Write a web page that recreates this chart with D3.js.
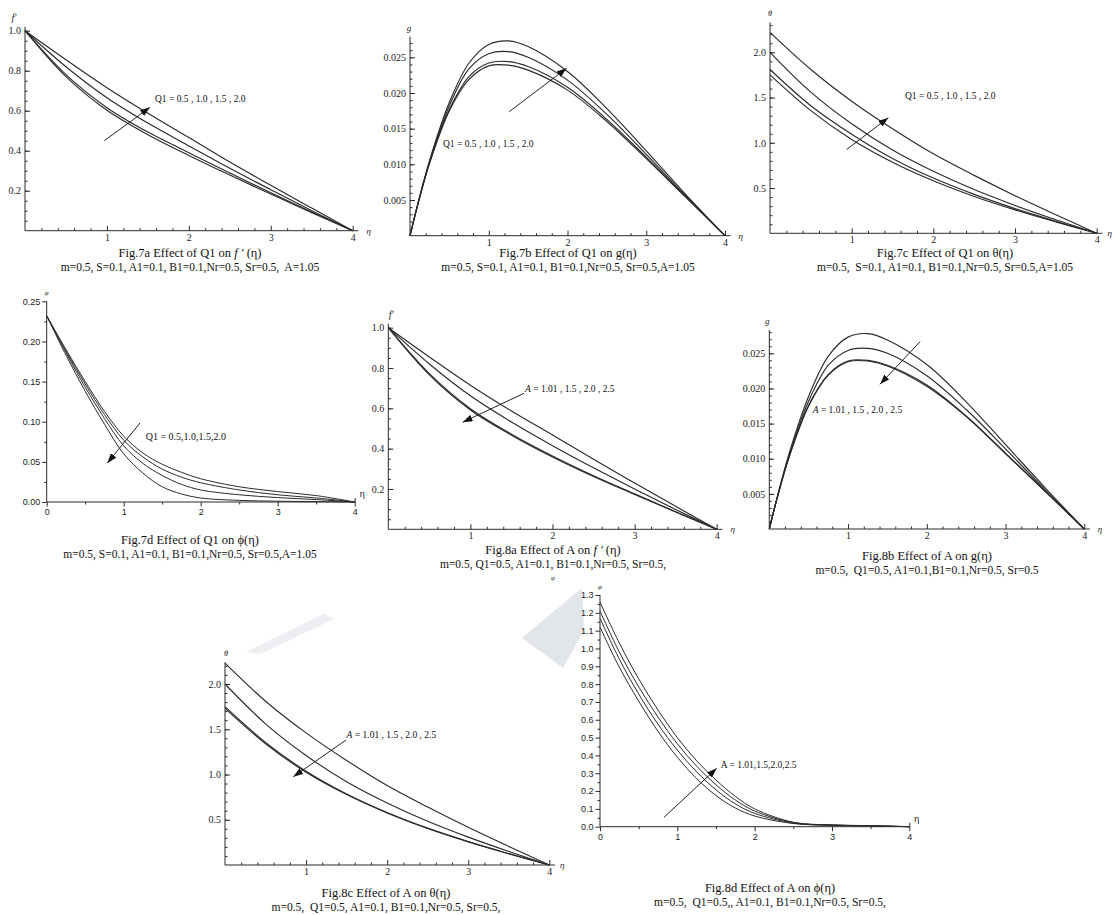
<!DOCTYPE html>
<html>
<head>
<meta charset="utf-8">
<title>Effect of Q1 and A on the profiles</title>
<script src="https://cdnjs.cloudflare.com/ajax/libs/d3/7.8.5/d3.min.js"></script>
<style>
  body { margin: 0; background: #fff; }
  svg { display: block; }
</style>
</head>
<body>
<script>
// eta grids used by the curves
const etaMain = [0, 0.5, 1, 1.5, 2, 2.5, 3, 3.5, 4];
const etaG = [0, 0.1, 0.25, 0.5, 0.75, 1, 1.25, 1.5, 2, 2.5, 3, 3.5, 4];
const etaPhi = [0, 0.25, 0.5, 0.75, 1, 1.25, 1.5, 1.75, 2, 2.5, 3, 3.5, 4];

// Fig 7a  f'(eta)  Q1 = 0.5, 1.0, 1.5, 2.0
const f7aQ05 = [1, 0.77, 0.602, 0.48, 0.376, 0.278, 0.183, 0.09, 0];
const f7aQ10 = [1, 0.78, 0.615, 0.493, 0.39, 0.288, 0.19, 0.094, 0];
const f7aQ15 = [1, 0.82, 0.665, 0.538, 0.424, 0.312, 0.205, 0.1, 0];
const f7aQ20 = [1, 0.855, 0.715, 0.587, 0.466, 0.343, 0.227, 0.113, 0];

// Fig 7b  g(eta)
const g7bQ05 = [0, 0.0044, 0.0102, 0.0175, 0.0219, 0.0238, 0.0239, 0.0232, 0.0204, 0.0160, 0.0108, 0.0054, 0];
const g7bQ10 = [0, 0.0044, 0.0103, 0.0177, 0.0223, 0.0242, 0.0244, 0.0237, 0.0208, 0.0163, 0.0110, 0.0055, 0];
const g7bQ15 = [0, 0.0045, 0.0104, 0.0182, 0.0234, 0.0255, 0.0258, 0.0250, 0.0218, 0.0170, 0.0114, 0.0056, 0];
const g7bQ20 = [0, 0.0045, 0.0106, 0.0187, 0.0242, 0.0268, 0.0273, 0.0265, 0.0230, 0.0178, 0.0119, 0.0058, 0];

// Fig 7c  theta(eta)
const t7cQ05 = [1.75, 1.355, 1.036, 0.785, 0.58, 0.407, 0.259, 0.126, 0];
const t7cQ10 = [1.81, 1.41, 1.095, 0.827, 0.61, 0.43, 0.273, 0.133, 0];
const t7cQ15 = [2.0, 1.56, 1.21, 0.92, 0.685, 0.483, 0.308, 0.15, 0];
const t7cQ20 = [2.22, 1.81, 1.46, 1.155, 0.878, 0.64, 0.416, 0.205, 0];

// Fig 7d  phi(eta)
const p7dQ05 = [0.232, 0.19, 0.15, 0.113, 0.082, 0.061, 0.047, 0.037, 0.029, 0.019, 0.013, 0.008, 0];
const p7dQ10 = [0.232, 0.188, 0.147, 0.109, 0.077, 0.056, 0.041, 0.031, 0.024, 0.015, 0.009, 0.005, 0];
const p7dQ15 = [0.232, 0.186, 0.143, 0.104, 0.070, 0.048, 0.033, 0.022, 0.015, 0.009, 0.0055, 0.003, 0];
const p7dQ20 = [0.232, 0.183, 0.138, 0.097, 0.060, 0.036, 0.019, 0.010, 0.005, 0.002, 0.001, 0.0005, 0];

// Fig 8a  f'(eta)  A = 1.01, 1.5, 2.0, 2.5
const f8aA101 = [1, 0.855, 0.715, 0.587, 0.468, 0.347, 0.23, 0.114, 0];
const f8aA15 = [1, 0.82, 0.662, 0.532, 0.415, 0.305, 0.2, 0.098, 0];
const f8aA20 = [1, 0.772, 0.598, 0.472, 0.364, 0.266, 0.176, 0.087, 0];
const f8aA25 = [1, 0.766, 0.592, 0.467, 0.359, 0.262, 0.173, 0.086, 0];

// Fig 8b  g(eta)
const g8bA101 = [0, 0.0045, 0.0107, 0.0189, 0.0246, 0.0273, 0.0278, 0.0269, 0.0234, 0.0181, 0.0120, 0.0059, 0];
const g8bA15 = [0, 0.0045, 0.0104, 0.0182, 0.0233, 0.0254, 0.0257, 0.0250, 0.0218, 0.0170, 0.0114, 0.0056, 0];
const g8bA20 = [0, 0.0044, 0.0102, 0.0176, 0.0220, 0.0239, 0.0240, 0.0233, 0.0205, 0.0161, 0.0108, 0.0054, 0];
const g8bA25 = [0, 0.0044, 0.0102, 0.0175, 0.0219, 0.0238, 0.0239, 0.0232, 0.0203, 0.0160, 0.0107, 0.0054, 0];

// Fig 8c  theta(eta)
const t8cA101 = [2.23, 1.81, 1.46, 1.155, 0.878, 0.64, 0.416, 0.205, 0];
const t8cA15 = [2.0, 1.56, 1.21, 0.92, 0.685, 0.483, 0.308, 0.15, 0];
const t8cA20 = [1.75, 1.355, 1.036, 0.785, 0.58, 0.407, 0.259, 0.126, 0];
const t8cA25 = [1.73, 1.34, 1.025, 0.778, 0.575, 0.403, 0.256, 0.125, 0];

// Fig 8d  phi(eta)
const p8dA101 = [1.12, 0.895, 0.705, 0.535, 0.39, 0.27, 0.175, 0.105, 0.06, 0.018, 0.008, 0.004, 0];
const p8dA15 = [1.17, 0.94, 0.745, 0.575, 0.43, 0.308, 0.207, 0.128, 0.075, 0.02, 0.008, 0.005, 0];
const p8dA20 = [1.21, 0.98, 0.785, 0.615, 0.465, 0.34, 0.235, 0.15, 0.088, 0.023, 0.009, 0.005, 0];
const p8dA25 = [1.26, 1.03, 0.83, 0.655, 0.50, 0.37, 0.262, 0.17, 0.10, 0.025, 0.01, 0.006, 0];

// tick labels
const ticksEtaMath = [1, 2, 3, 4];
const ticksEtaOrigin = [0, 1, 2, 3, 4];
const ticksF = [0.2, 0.4, 0.6, 0.8, 1.0];
const ticksG = [0.005, 0.010, 0.015, 0.020, 0.025];
const ticksTheta = [0.5, 1.0, 1.5, 2.0];
const ticksPhi7d = [0, 0.05, 0.10, 0.15, 0.20, 0.25];
const ticksPhi8d = [0, 0.1, 0.2, 0.3, 0.4, 0.5, 0.6, 0.7, 0.8, 0.9, 1.0, 1.1, 1.2, 1.3];

const W = 1115, H = 915;
const SERIF = "'Liberation Serif', 'Times New Roman', serif";
const SANS = "'Liberation Sans', Arial, sans-serif";
const INK = "#2b2b2b";

const svg = d3.select("body").append("svg")
  .attr("width", W)
  .attr("height", H);

svg.append("rect").attr("width", W).attr("height", H).attr("fill", "#fff");

svg.append("defs").append("marker")
  .attr("id", "head")
  .attr("viewBox", "0 0 10 7")
  .attr("refX", 10).attr("refY", 3.5)
  .attr("markerWidth", 10).attr("markerHeight", 7)
  .attr("markerUnits", "userSpaceOnUse")
  .attr("orient", "auto")
  .append("path").attr("d", "M0,0 L10,3.5 L0,7 Z").attr("fill", "#111");

// faint watermark pieces showing between the bottom figures
svg.append("polygon")
  .attr("points", "246,652 324,614 334,619 260,654")
  .attr("fill", "#eceef1");
svg.append("polygon")
  .attr("points", "522,638 582,588 584,630 563,668")
  .attr("fill", "#e2e5ea");

function series(etas, vals) {
  return etas.map((e, i) => [e, vals[i]]);
}

function styleAxis(sel, font, size) {
  sel.select(".domain").remove();
  sel.selectAll("line").attr("stroke", INK).attr("stroke-width", 1);
  sel.selectAll("text").attr("font-family", font).attr("font-size", size).attr("fill", "#222");
}

function caption(cx, yBase, first, second) {
  const t = svg.append("text")
    .attr("x", cx).attr("y", yBase)
    .attr("text-anchor", "middle")
    .attr("font-family", SERIF).attr("font-size", 12.5).attr("fill", "#111");
  first.forEach(s => t.append("tspan").attr("font-style", s[1] ? "italic" : "normal").text(s[0]));
  svg.append("text")
    .attr("x", cx).attr("y", yBase + 14)
    .attr("text-anchor", "middle")
    .attr("font-family", SERIF).attr("font-size", 11.5).attr("fill", "#111")
    .style("white-space", "pre")
    .text(second);
}

function drawCurves(g, x, y, etas, list, width) {
  const line = d3.line().x(d => x(d[0])).y(d => y(d[1])).curve(d3.curveCatmullRom.alpha(0.5));
  g.selectAll("path.curve").data(list).enter().append("path")
    .attr("class", "curve")
    .attr("d", d => line(series(etas, d)))
    .attr("fill", "none").attr("stroke", INK).attr("stroke-width", width);
}

function annotate(g, x, y, p) {
  g.append("line")
    .attr("x1", x(p.arrow[0][0])).attr("y1", y(p.arrow[0][1]))
    .attr("x2", x(p.arrow[1][0])).attr("y2", y(p.arrow[1][1]))
    .attr("stroke", "#222").attr("stroke-width", 1)
    .attr("marker-end", "url(#head)");
  const t = g.append("text")
    .attr("x", x(p.label[0])).attr("y", y(p.label[1]))
    .attr("font-family", SERIF).attr("font-size", p.labelSize || 9.5).attr("fill", "#111")
    .style("white-space", "pre");
  p.labelParts.forEach(s => t.append("tspan").attr("font-style", s[1] ? "italic" : "normal").text(s[0]));
}

// Mathematica style panel: ticks inward, no zero labels
function mathPanel(p) {
  const x = d3.scaleLinear().domain([0, 4]).range([p.x0, p.x4]);
  const y = d3.scaleLinear().domain([0, p.yRef]).range([p.y0, p.yRefPx]);
  const g = svg.append("g");

  g.append("line").attr("x1", x(0)).attr("x2", x(4.07)).attr("y1", y(0)).attr("y2", y(0))
    .attr("stroke", INK).attr("stroke-width", 1);
  g.append("line").attr("x1", x(0)).attr("x2", x(0)).attr("y1", y(0)).attr("y2", y(p.yMax))
    .attr("stroke", INK).attr("stroke-width", 1);

  const xMinor = d3.range(1, 21).map(i => i * 0.2).filter(v => Math.abs(v - Math.round(v)) > 1e-6);
  const nMinor = Math.floor(p.yMax / p.yMinor + 1e-6);
  const yMinor = d3.range(1, nMinor + 1).map(i => i * p.yMinor);

  g.append("g").attr("transform", `translate(0,${y(0)})`)
    .call(d3.axisBottom(x).tickValues(xMinor).tickSizeInner(-2.5).tickSizeOuter(0).tickFormat(""))
    .call(s => styleAxis(s, SERIF, 10));
  g.append("g").attr("transform", `translate(0,${y(0)})`)
    .call(d3.axisBottom(x).tickValues(ticksEtaMath).tickSizeInner(-5).tickSizeOuter(0).tickPadding(3).tickFormat(d3.format("d")))
    .call(s => styleAxis(s, SERIF, 10));
  g.append("g").attr("transform", `translate(${x(0)},0)`)
    .call(d3.axisLeft(y).tickValues(yMinor).tickSizeInner(-2.5).tickSizeOuter(0).tickFormat(""))
    .call(s => styleAxis(s, SERIF, 10));
  g.append("g").attr("transform", `translate(${x(0)},0)`)
    .call(d3.axisLeft(y).tickValues(p.yTicks).tickSizeInner(-5).tickSizeOuter(0).tickPadding(4).tickFormat(d3.format(p.fmt)))
    .call(s => styleAxis(s, SERIF, 10));

  drawCurves(g, x, y, p.etas, p.curves, 1.15);
  annotate(g, x, y, p);

  g.append("text").attr("x", x(0) + p.yLabelDx).attr("y", y(p.yMax) - 6)
    .attr("font-family", SERIF).attr("font-size", p.yLabelSize || 10).attr("font-style", "italic")
    .attr("text-anchor", "middle").attr("fill", "#222").text(p.yLabel);
  g.append("text").attr("x", x(4.07) + 8 + (p.etaDx || 0)).attr("y", y(0) + 3)
    .attr("font-family", SERIF).attr("font-size", 9).attr("font-style", "italic")
    .attr("fill", "#222").text("η");
}

// Origin style panel: ticks outward, zero labels, sans font
function originPanel(p) {
  const x = d3.scaleLinear().domain([0, 4]).range([p.x0, p.x4]);
  const y = d3.scaleLinear().domain([0, p.yRef]).range([p.y0, p.yRefPx]);
  const g = svg.append("g");

  g.append("line").attr("x1", x(0)).attr("x2", x(4)).attr("y1", y(0)).attr("y2", y(0))
    .attr("stroke", INK).attr("stroke-width", 1);
  g.append("line").attr("x1", x(0)).attr("x2", x(0)).attr("y1", y(0)).attr("y2", y(p.yRef))
    .attr("stroke", INK).attr("stroke-width", 1);

  g.append("g").attr("transform", `translate(0,${y(0)})`)
    .call(d3.axisBottom(x).tickValues([0.5, 1.5, 2.5, 3.5]).tickSizeInner(2.5).tickSizeOuter(0).tickFormat(""))
    .call(s => styleAxis(s, SANS, 9));
  g.append("g").attr("transform", `translate(0,${y(0)})`)
    .call(d3.axisBottom(x).tickValues(ticksEtaOrigin).tickSizeInner(4.5).tickSizeOuter(0).tickPadding(2).tickFormat(d3.format("d")))
    .call(s => styleAxis(s, SANS, 9));
  g.append("g").attr("transform", `translate(0,${y(0)})`)
    .call(d3.axisBottom(x).tickValues([4]).tickSizeInner(-4).tickSizeOuter(0).tickFormat(""))
    .call(s => styleAxis(s, SANS, 9));
  const yMinor = p.yTicks.slice(0, -1).map((v, i) => (v + p.yTicks[i + 1]) / 2);
  g.append("g").attr("transform", `translate(${x(0)},0)`)
    .call(d3.axisLeft(y).tickValues(yMinor).tickSizeInner(2.5).tickSizeOuter(0).tickFormat(""))
    .call(s => styleAxis(s, SANS, 9));
  g.append("g").attr("transform", `translate(${x(0)},0)`)
    .call(d3.axisLeft(y).tickValues(p.yTicks).tickSizeInner(4.5).tickSizeOuter(0).tickPadding(2).tickFormat(d3.format(p.fmt)))
    .call(s => styleAxis(s, SANS, 9));

  drawCurves(g, x, y, p.etas, p.curves, 1);
  annotate(g, x, y, p);

  g.append("text").attr("x", x(0)).attr("y", y(p.yRef) - 6)
    .attr("font-family", SERIF).attr("font-size", 7).attr("font-style", "italic")
    .attr("text-anchor", "middle").attr("fill", "#222").text("φ");
  g.append("text").attr("x", x(4) + 5).attr("y", y(0) - 5)
    .attr("font-family", SANS).attr("font-size", 9).attr("fill", "#222").text("η");
}

const q1Label = [["Q1 = 0.5 , 1.0 , 1.5 , 2.0", false]];
const aLabel = [["A", true], [" = 1.01 , 1.5 , 2.0 , 2.5", false]];

mathPanel({
  x0: 25, x4: 352.7, y0: 230.7, yRef: 1, yRefPx: 30.7, yMax: 1.02, yMinor: 0.05,
  yTicks: ticksF, fmt: ".1f", yLabel: "f′", yLabelDx: -11,
  etas: etaMain, curves: [f7aQ05, f7aQ10, f7aQ15, f7aQ20],
  arrow: [[0.968, 0.45], [1.526, 0.617]], label: [1.587, 0.6435], labelParts: q1Label
});
mathPanel({
  x0: 410, x4: 725, y0: 235.7, yRef: 0.025, yRefPx: 57.3, yMax: 0.0279, yMinor: 0.001,
  yTicks: ticksG, fmt: ".3f", yLabel: "g", yLabelDx: -1, yLabelSize: 9,
  etas: etaG, curves: [g7bQ05, g7bQ10, g7bQ15, g7bQ20],
  arrow: [[1.261, 0.01739], [1.99, 0.02348]], label: [0.419, 0.01244], labelParts: q1Label
});
mathPanel({
  x0: 770, x4: 1096.7, y0: 233.3, yRef: 2, yRefPx: 52.3, yMax: 2.33, yMinor: 0.1,
  yTicks: ticksTheta, fmt: ".1f", yLabel: "θ", yLabelDx: 0, yLabelSize: 8, etaDx: -3,
  etas: etaMain, curves: [t7cQ05, t7cQ10, t7cQ15, t7cQ20],
  arrow: [[0.939, 0.926], [1.449, 1.278]], label: [1.653, 1.481], labelParts: q1Label
});
originPanel({
  x0: 46.7, x4: 354.7, y0: 502, yRef: 0.25, yRefPx: 301.3,
  yTicks: ticksPhi7d, fmt: ".2f",
  etas: etaPhi, curves: [p7dQ05, p7dQ10, p7dQ15, p7dQ20],
  arrow: [[1.212, 0.0984], [0.787, 0.0484]], label: [1.286, 0.0775],
  labelParts: [["Q1 = 0.5,1.0,1.5,2.0", false]], labelSize: 10
});
mathPanel({
  x0: 388.3, x4: 716.7, y0: 529.3, yRef: 1, yRefPx: 327.7, yMax: 1.02, yMinor: 0.05,
  yTicks: ticksF, fmt: ".1f", yLabel: "f′", yLabelDx: 3,
  etas: etaMain, curves: [f8aA101, f8aA15, f8aA20, f8aA25],
  arrow: [[1.653, 0.6746], [0.906, 0.531]], label: [1.665, 0.681], labelParts: aLabel
});
mathPanel({
  x0: 769.3, x4: 1084.3, y0: 529, yRef: 0.025, yRefPx: 353.3, yMax: 0.0283, yMinor: 0.001,
  yTicks: ticksG, fmt: ".3f", yLabel: "g", yLabelDx: -2, yLabelSize: 9,
  etas: etaG, curves: [g8bA101, g8bA15, g8bA20, g8bA25],
  arrow: [[1.914, 0.02665], [1.406, 0.02059]], label: [0.551, 0.0165], labelParts: aLabel
});
mathPanel({
  x0: 225, x4: 549.3, y0: 865, yRef: 2, yRefPx: 684, yMax: 2.24, yMinor: 0.1,
  yTicks: ticksTheta, fmt: ".1f", yLabel: "θ", yLabelDx: 1, yLabelSize: 8, etaDx: -3,
  etas: etaMain, curves: [t8cA101, t8cA15, t8cA20, t8cA25],
  arrow: [[1.492, 1.381], [0.842, 0.974]], label: [1.5, 1.40], labelParts: aLabel
});
originPanel({
  x0: 600, x4: 909.3, y0: 826.7, yRef: 1.3, yRefPx: 595,
  yTicks: ticksPhi8d, fmt: ".1f",
  etas: etaPhi, curves: [p8dA101, p8dA15, p8dA20, p8dA25],
  arrow: [[0.828, 0.0528], [1.51, 0.328]], label: [1.561, 0.33],
  labelParts: [["A = 1.01,1.5,2.0,2.5", false]], labelSize: 9.5
});

// stray symbol left over in the source layout
svg.append("text").attr("x", 553).attr("y", 580).attr("text-anchor", "middle")
  .attr("font-family", SERIF).attr("font-size", 7).attr("font-style", "italic").attr("fill", "#333").text("φ");

// captions
caption(190, 257, [["Fig.7a Effect of Q1 on ", false], ["f ′", true], [" (η)", false]],
  "m=0.5, S=0.1, A1=0.1, B1=0.1,Nr=0.5, Sr=0.5,  A=1.05");
caption(568, 257, [["Fig.7b Effect of Q1 on g(η)", false]],
  "m=0.5, S=0.1, A1=0.1, B1=0.1,Nr=0.5, Sr=0.5,A=1.05");
caption(945, 257, [["Fig.7c Effect of Q1 on θ(η)", false]],
  "m=0.5,  S=0.1, A1=0.1, B1=0.1,Nr=0.5, Sr=0.5,A=1.05");
caption(190, 544, [["Fig.7d Effect of Q1 on ϕ(η)", false]],
  "m=0.5, S=0.1, A1=0.1, B1=0.1,Nr=0.5, Sr=0.5,A=1.05");
caption(553, 554, [["Fig.8a Effect of A on ", false], ["f ′", true], [" (η)", false]],
  "m=0.5, Q1=0.5, A1=0.1, B1=0.1,Nr=0.5, Sr=0.5,");
caption(927, 560, [["Fig.8b Effect of A on g(η)", false]],
  "m=0.5,  Q1=0.5, A1=0.1,B1=0.1,Nr=0.5, Sr=0.5");
caption(386, 897, [["Fig.8c Effect of A on θ(η)", false]],
  "m=0.5,  Q1=0.5, A1=0.1, B1=0.1,Nr=0.5, Sr=0.5,");
caption(770, 892, [["Fig.8d Effect of A on ϕ(η)", false]],
  "m=0.5,  Q1=0.5,, A1=0.1, B1=0.1,Nr=0.5, Sr=0.5,");
</script>
</body>
</html>
